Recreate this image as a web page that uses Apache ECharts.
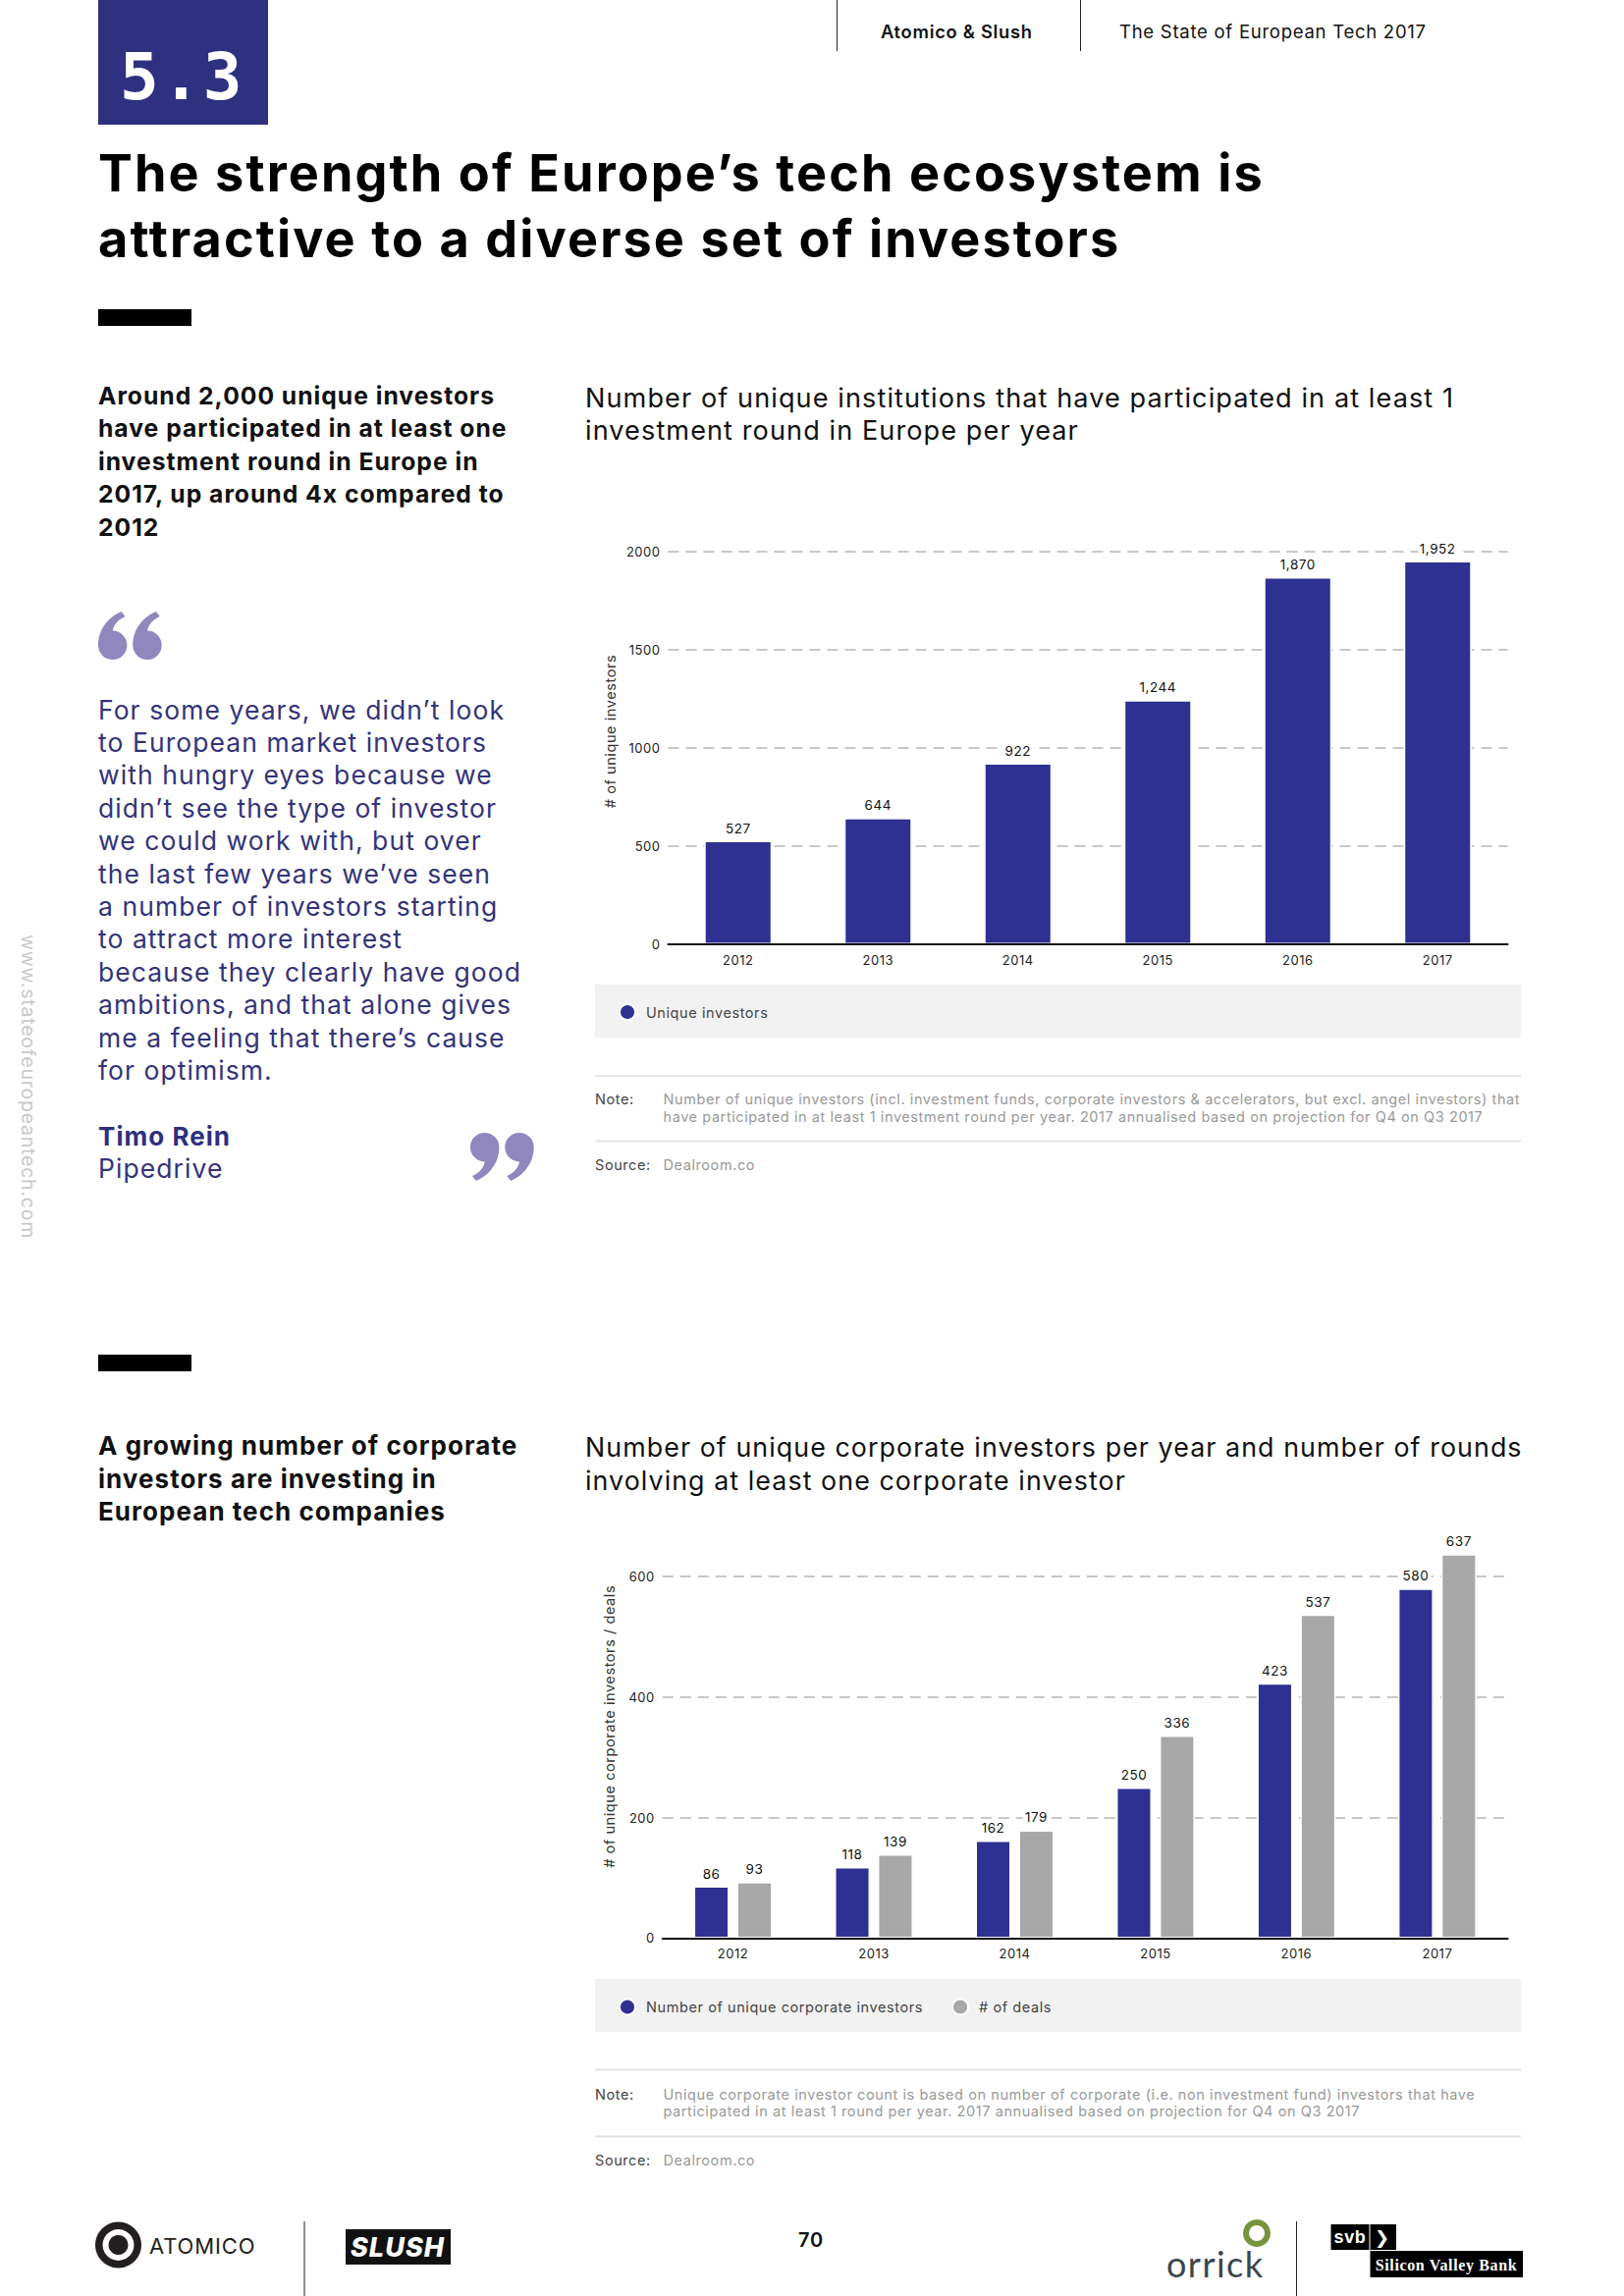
<!DOCTYPE html>
<html><head><meta charset="utf-8">
<script src="https://cdn.jsdelivr.net/npm/echarts@6/dist/echarts.min.js"></script>
<style>html,body{margin:0;padding:0;background:#fff}#main{width:1654px;height:2339px}#main text{letter-spacing:.04em}</style>
</head><body><div id="main"></div>
<script>
const years = ['2012','2013','2014','2015','2016','2017'];
const uniqueInvestors = [527,644,922,1244,1870,1952];
const corporateInvestors = [86,118,162,250,423,580];
const corporateDeals = [93,139,179,336,537,637];
const titleLines = ['The strength of Europe’s tech ecosystem is','attractive to a diverse set of investors'];
const leadLines1 = ['Around 2,000 unique investors','have participated in at least one','investment round in Europe in','2017, up around 4x compared to','2012'];
const leadLines2 = ['A growing number of corporate','investors are investing in','European tech companies'];
const subLines1 = ['Number of unique institutions that have participated in at least 1','investment round in Europe per year'];
const subLines2 = ['Number of unique corporate investors per year and number of rounds','involving at least one corporate investor'];
const quoteLines = ['For some years, we didn’t look','to European market investors','with hungry eyes because we','didn’t see the type of investor','we could work with, but over','the last few years we’ve seen','a number of investors starting','to attract more interest','because they clearly have good','ambitions, and that alone gives','me a feeling that there’s cause','for optimism.'];
const noteLines1 = ['Number of unique investors (incl. investment funds, corporate investors & accelerators, but excl. angel investors) that','have participated in at least 1 investment round per year. 2017 annualised based on projection for Q4 on Q3 2017'];
const noteLines2 = ['Unique corporate investor count is based on number of corporate (i.e. non investment fund) investors that have','participated in at least 1 round per year. 2017 annualised based on projection for Q4 on Q3 2017'];

const NAVY='#2e3092', GREY='#a8a8a8', SANS='Inter, sans-serif';
const txt=(text,x,y,font,fill,extra)=>({type:'text',silent:true,z:5,style:Object.assign({text,x,y,font,fill,textVerticalAlign:'middle'},extra||{})});
const rect=(x,y,width,height,fill,z)=>({type:'rect',silent:true,z:z==null?1:z,shape:{x,y,width,height},style:{fill}});
const hline=(x1,x2,y,c,w)=>({type:'line',silent:true,z:1,shape:{x1,y1:y,x2,y2:y},style:{stroke:c||'#e4e4e4',lineWidth:w||2}});
const vline=(x,y1,y2)=>({type:'line',silent:true,z:1,shape:{x1:x,y1,x2:x,y2},style:{stroke:'#222',lineWidth:1}});
const lines=(arr,x,y0,dy,font,fill)=>arr.map((t,i)=>txt(t,x,y0+i*dy,font,fill));

echarts.graphic.registerShape('openQuote',echarts.graphic.extendPath('M48 0L56 10C40 18 32 28 30 40A30 30 0 1 1 0 70C0 38 20 12 48 0ZM120 0L128 10C112 18 104 28 102 40A30 30 0 1 1 72 70C72 38 92 12 120 0Z',{}));
echarts.graphic.registerShape('closeQuote',echarts.graphic.extendPath('M12 100L4 90C20 82 28 72 30 60A30 30 0 1 1 60 30C60 62 40 88 12 100ZM84 100L76 90C92 82 100 72 102 60A30 30 0 1 1 132 30C132 62 112 88 84 100Z',{}));

const graphics=[
  rect(100,0,173,127,'#2e3080'),
  txt('5.3',122,78,'bold 66px "DejaVu Sans Mono"','#fff'),
  vline(852.5,0,52),vline(1100.5,0,52),
  txt('Atomico & Slush',897,32,'600 18.3px '+SANS,'#111'),
  txt('The State of European Tech 2017',1140,32,'400 18.5px '+SANS,'#111'),
  ...lines(titleLines,100,176,66.5,'700 52.2px '+SANS,'#000'),
  rect(100,315,95,17,'#000'),
  ...lines(leadLines1,100,402.5,33.6,'700 24.7px '+SANS,'#111'),
  ...lines(subLines1,596,405.5,33,'400 27.1px '+SANS,'#111'),
  {type:'openQuote',silent:true,x:100,y:623,scaleX:0.49,scaleY:0.49,style:{fill:'#8f87bd'}},
  ...lines(quoteLines,100,722.5,33.4,'400 26.5px '+SANS,'#33337a'),
  txt('Timo Rein',100,1157.5,'700 26px '+SANS,'#2e3080'),
  txt('Pipedrive',100,1190,'400 26.5px '+SANS,'#33337a'),
  {type:'closeQuote',silent:true,x:479,y:1154,scaleX:0.49,scaleY:0.49,style:{fill:'#8f87bd'}},
  {type:'text',silent:true,x:29,y:952,rotation:-Math.PI/2,style:{text:'www.stateofeuropeantech.com',font:'400 19.5px '+SANS,fill:'#c9c9c9',textVerticalAlign:'middle'}},
  rect(606,1003,943,54,'#f2f2f2',0),
  hline(606,1549,1096),
  txt('Note:',606,1119,'400 14.5px '+SANS,'#444'),
  ...lines(noteLines1,675.5,1119,18,'400 14.5px '+SANS,'#999'),
  hline(606,1549,1162.5),
  txt('Source:',606,1186,'400 14.5px '+SANS,'#444'),
  txt('Dealroom.co',675.5,1186,'400 14.5px '+SANS,'#999'),
  rect(100,1380,95,17,'#000'),
  ...lines(leadLines2,100,1472.5,33.6,'700 26px '+SANS,'#111'),
  ...lines(subLines2,596,1474,33.5,'400 26.8px '+SANS,'#111'),
  rect(606,2016,943,54,'#f2f2f2',0),
  hline(606,1549,2108.5),
  txt('Note:',606,2133,'400 14.5px '+SANS,'#444'),
  ...lines(noteLines2,675.5,2133,17,'400 14.5px '+SANS,'#999'),
  hline(606,1549,2176.5),
  txt('Source:',606,2200.5,'400 14.5px '+SANS,'#444'),
  txt('Dealroom.co',675.5,2200.5,'400 14.5px '+SANS,'#999'),
  // footer
  {type:'ring',silent:true,shape:{cx:120.5,cy:2287,r:23.5,r0:16},style:{fill:'#231f20'}},
  {type:'circle',silent:true,shape:{cx:120.5,cy:2287,r:10},style:{fill:'#231f20'}},
  txt('ATOMICO',152,2288,'400 22px '+SANS,'#231f20'),
  vline(310,2263,2339),
  rect(352,2271,107,36,'#111'),
  txt('SLUSH',405,2289,'italic 800 27px '+SANS,'#fff',{textAlign:'center'}),
  txt('70',826,2282,'600 20px '+SANS,'#111',{textAlign:'center'}),
  {type:'ring',silent:true,shape:{cx:1280,cy:2275,r:14,r0:8},style:{fill:'#77933c'}},
  txt('orrick',1188,2306,'400 36px Lato','#3c464d'),
  vline(1320.5,2263,2339),
  rect(1355.5,2266,39,26,'#000'),
  txt('svb',1375,2279,'700 18px "Liberation Sans"','#fff',{textAlign:'center'}),
  rect(1395.5,2266,26.5,26,'#000'),
  txt('❯',1408,2279,'700 18px "DejaVu Sans"','#fff',{textAlign:'center'}),
  rect(1395.5,2293,155.5,27,'#000'),
  txt('Silicon Valley Bank',1473,2307,'700 16px "Liberation Serif"','#fff',{textAlign:'center'})
];

const tick={color:'#222',fontFamily:SANS,fontSize:13};
const dash={show:true,lineStyle:{color:'#c8c8c8',type:[11,7],width:2}};
const xAxisOf=i=>({type:'category',gridIndex:i,data:years,z:5,axisLine:{lineStyle:{color:'#111',width:2}},axisTick:{show:false},axisLabel:Object.assign({margin:9},tick)});
const lbl=fmt=>({show:true,position:'top',distance:5,color:'#111',fontFamily:SANS,fontSize:13.5,formatter:fmt,backgroundColor:'#fff',padding:[1,3,1,3]});
const barStyle=c=>({color:c,borderColor:'#fff',borderWidth:1.5});
const plain=v=>String(v);
const legendText={color:'#444',fontFamily:SANS,fontSize:14.5,padding:[0,0,0,6]};
const option={
  animation:false,
  graphic:graphics,
  grid:[
    {left:680.5,right:118.5,top:562,height:400},
    {left:674.8,right:118.4,top:1575.3,height:399.1}
  ],
  xAxis:[xAxisOf(0),xAxisOf(1)],
  yAxis:[
    {type:'value',gridIndex:0,min:0,max:2000,interval:500,name:'# of unique investors',nameLocation:'middle',nameGap:47,nameRotate:90,
     nameTextStyle:{color:'#333',fontFamily:SANS,fontSize:14.5,padding:[0,0,0,34]},axisLine:{show:false},axisTick:{show:false},axisLabel:Object.assign({margin:8,formatter:plain},tick),splitLine:dash},
    {type:'value',gridIndex:1,min:0,max:650,interval:200,name:'# of unique corporate investors / deals',nameLocation:'middle',nameGap:47,nameRotate:90,
     nameTextStyle:{color:'#333',fontFamily:SANS,fontSize:14.5,padding:[0,0,0,32]},axisLine:{show:false},axisTick:{show:false},axisLabel:Object.assign({margin:8,showMaxLabel:false,formatter:plain},tick),splitLine:Object.assign({showMaxLine:false},dash)}
  ],
  legend:[
    {data:['Unique investors'],left:625,top:1017,icon:'circle',itemWidth:16,itemHeight:16,textStyle:legendText},
    {data:['Number of unique corporate investors','# of deals'],left:625,top:2030.5,icon:'circle',itemWidth:16,itemHeight:16,itemGap:50,textStyle:legendText}
  ],
  series:[
    {name:'Unique investors',type:'bar',xAxisIndex:0,yAxisIndex:0,data:uniqueInvestors,barWidth:69,itemStyle:barStyle(NAVY),label:lbl(p=>p.value.toLocaleString('en-US'))},
    {name:'Number of unique corporate investors',type:'bar',xAxisIndex:1,yAxisIndex:1,data:corporateInvestors,barWidth:36,barGap:'22%',itemStyle:barStyle(NAVY),label:lbl('{c}')},
    {name:'# of deals',type:'bar',xAxisIndex:1,yAxisIndex:1,data:corporateDeals,barWidth:36,barGap:'22%',itemStyle:barStyle(GREY),label:lbl('{c}')}
  ]
};
echarts.init(document.getElementById('main'),null,{renderer:'svg',width:1654,height:2339}).setOption(option);
</script></body></html>
